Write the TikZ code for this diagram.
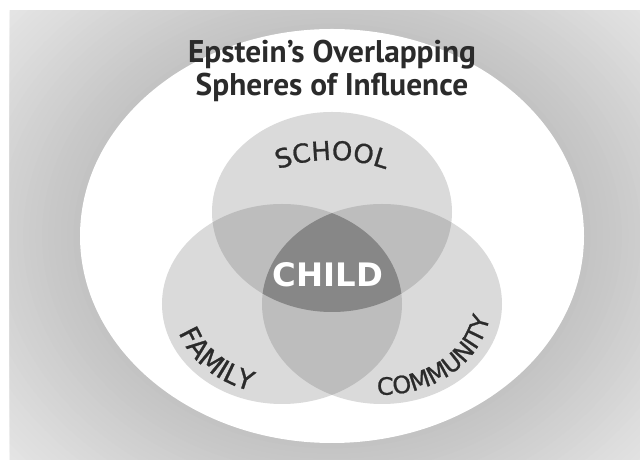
\documentclass[tikz,border=0pt]{standalone}
\usepackage{fontspec}
\setmainfont{PT Sans}
\newfontfamily\labelfont[LetterSpace=10,FakeBold=1]{DejaVu Sans}
\newfontfamily\childfont{DejaVu Sans}
\usetikzlibrary{decorations.text}

\definecolor{bglight}{gray}{0.91}
\definecolor{bgdark}{gray}{0.76}
\definecolor{sphere}{gray}{0.855}
\definecolor{overlap}{gray}{0.74}
\definecolor{core}{gray}{0.53}
\definecolor{ink}{gray}{0.17}

\begin{document}
\begin{tikzpicture}[x radius=3, y radius=2.5,
    sphere label/.style 2 args={decorate, decoration={text along path, text align=center,
      text color=ink, text={|\labelfont#1|#2}}}]
  \useasboundingbox (-8.3,-5.6) rectangle (7.7,5.9);
  \fill[white] (-8.3,-5.6) rectangle (7.7,5.9);

  % grey backdrop, darkest round the big ellipse
  \begin{scope}
    \clip (-8.05,-5.575) rectangle (7.7,5.625);
    \foreach \s in {30,...,0}
      \fill[bglight!\the\numexpr 100*\s/30\relax!bgdark]
        (0,0) ellipse[x radius={6.3*(1+0.025*\s)}, y radius={5.175*(1+0.025*\s)}];
  \end{scope}
  \fill[white] (0,0) ellipse[x radius=6.3, y radius=5.175];

  \coordinate (school) at (0,0.6);
  \coordinate (family) at (-1.25,-1.7);
  \coordinate (community) at (1.25,-1.7);

  % the three spheres and their overlaps
  \foreach \c in {school,family,community} \fill[sphere] (\c) ellipse;
  \begin{scope}
    \clip (school) ellipse;
    \fill[overlap] (family) ellipse;
    \fill[overlap] (community) ellipse;
  \end{scope}
  \begin{scope}
    \clip (family) ellipse;
    \fill[overlap] (community) ellipse;
  \end{scope}
  \begin{scope}
    \clip (school) ellipse;
    \clip (family) ellipse;
    \fill[core] (community) ellipse;
  \end{scope}

  % titles
  \node[anchor=base, text=ink, font=\bfseries\fontsize{22.3}{26}\selectfont] (title) at (0,4.33) {Epstein's Overlapping};
  \node[anchor=base, text=ink, font=\bfseries\fontsize{22.3}{26}\selectfont] (subtitle) at ([yshift=-23.5pt]title.base) {Spheres of Influence};
  \node[text=white, font=\childfont\bfseries\fontsize{23}{27}\selectfont] (child) at (-0.1,-0.96) {CHILD};

  % curved labels
  \path[shift={(0,-2.1)}, sphere label={\fontsize{18.5}{18.5}\selectfont}{SCHOOL}] (120:4) arc[start angle=120, end angle=60, radius=4];
  \path[shift={(family)}, sphere label={\fontsize{19}{19}\selectfont\addfontfeature{LetterSpace=22}}{FAMILY}] (176:2.72 and 2.27) arc[start angle=176, end angle=272, x radius=2.72, y radius=2.27];
  \path[shift={(community)}, sphere label={\fontsize{17}{17}\selectfont}{COMMUNITY}] (262:2.72 and 2.27) arc[start angle=262, end angle=358, x radius=2.72, y radius=2.27];
\end{tikzpicture}
\end{document}
